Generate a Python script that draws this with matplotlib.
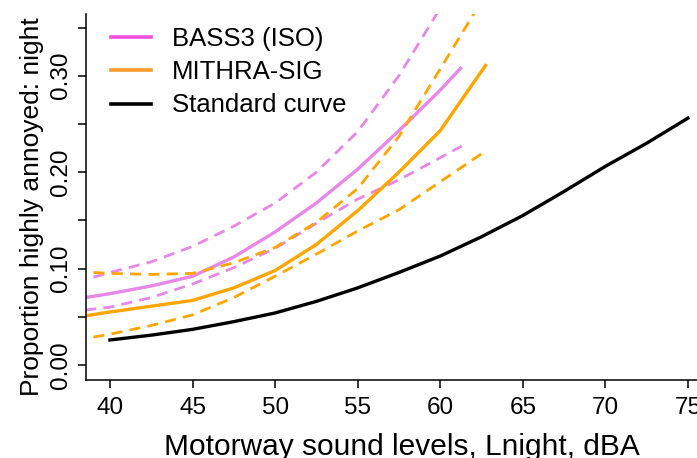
import matplotlib
matplotlib.use("Agg")
import matplotlib.pyplot as plt
from matplotlib.lines import Line2D

plt.rcParams['font.family'] = ['Liberation Sans', 'DejaVu Sans']

# Motorway Lnight (dBA) and proportion highly annoyed
bass_x = [38.5, 40, 42.5, 45, 47.5, 50, 52.5, 55, 57.5, 60, 61.3]
bass_y = [0.070, 0.074, 0.082, 0.092, 0.112, 0.138, 0.168, 0.203, 0.243, 0.285, 0.309]
bass_lo = [0.057, 0.060, 0.070, 0.084, 0.101, 0.121, 0.147, 0.172, 0.192, 0.215, 0.227]
bass_hi_x = [39.0, 40, 42.5, 45, 47.5, 50, 52.5, 55, 57.5, 60]
bass_hi = [0.091, 0.096, 0.107, 0.123, 0.144, 0.168, 0.200, 0.242, 0.300, 0.370]

mith_x = [38.5, 40, 42.5, 45, 47.5, 50, 52.5, 55, 57.5, 60, 62.8]
mith_y = [0.051, 0.055, 0.061, 0.067, 0.080, 0.098, 0.125, 0.160, 0.200, 0.243, 0.312]
mith_lo_x = [39.0, 40, 42.5, 45, 47.5, 50, 52.5, 55, 57.5, 60, 62.5]
mith_lo = [0.029, 0.032, 0.041, 0.052, 0.070, 0.092, 0.115, 0.139, 0.161, 0.190, 0.219]
mith_hi_x = [39.0, 40, 42.5, 45, 47.5, 50, 52.5, 55, 57.5, 60, 62.1]
mith_hi = [0.096, 0.095, 0.094, 0.095, 0.106, 0.122, 0.148, 0.183, 0.237, 0.307, 0.366]

std_x = [40, 42.5, 45, 47.5, 50, 52.5, 55, 57.5, 60, 62.5, 65, 67.5, 70, 72.5, 75]
std_y = [0.026, 0.031, 0.037, 0.045, 0.054, 0.066, 0.080, 0.096, 0.113, 0.133, 0.155,
         0.180, 0.206, 0.230, 0.256]

labels = ['BASS3 (ISO)', 'MITHRA-SIG', 'Standard curve']
x_ticks = [40, 45, 50, 55, 60, 65, 70, 75]
y_ticks = [0.00, 0.05, 0.10, 0.15, 0.20, 0.25, 0.30, 0.35]

pink = '#e887e8'
orange = '#ffa500'

fig = plt.figure(figsize=(6.97, 4.58), dpi=100)
ax = fig.add_axes([86 / 697, 78 / 458, 625 / 697, 366 / 458])

lw = 2.4
dash = (4, 2.6)
ax.plot(bass_x, bass_y, color=pink, lw=lw, solid_capstyle='butt')
ax.plot(bass_x, bass_lo, color=pink, lw=2.0, dashes=dash)
ax.plot(bass_hi_x, bass_hi, color=pink, lw=2.0, dashes=dash)
ax.plot(mith_x, mith_y, color=orange, lw=lw, solid_capstyle='butt')
ax.plot(mith_lo_x, mith_lo, color=orange, lw=2.0, dashes=dash)
ax.plot(mith_hi_x, mith_hi, color=orange, lw=2.0, dashes=dash)
ax.plot(std_x, std_y, color='black', lw=lw)

ax.set_xlim(38.55, 76.4)
ax.set_ylim(-0.0155, 0.364)

ax.spines['top'].set_visible(False)
ax.spines['right'].set_visible(False)
for s in ['left', 'bottom']:
    ax.spines[s].set_linewidth(1.1)

ax.set_xticks(x_ticks)
ax.set_xticklabels([str(v) for v in x_ticks])
ax.set_yticks(y_ticks)
ax.set_yticklabels(['%.2f' % v if i % 2 == 0 else '' for i, v in enumerate(y_ticks)],
                   rotation=90, va='center')
ax.tick_params(axis='both', length=6, width=1.1, labelsize=17.5)
ax.tick_params(axis='x', pad=6)
ax.tick_params(axis='y', pad=4)

fig.text(32 / 697, 1 - 207 / 458, 'Proportion highly annoyed: night', rotation=90,
         ha='center', va='center', fontsize=19)
fig.text(402 / 697, 3 / 458, 'Motorway sound levels, Lnight, dBA',
         ha='center', va='baseline', fontsize=21.5)

handles = [Line2D([], [], color='#f24fdf', lw=2.6),
           Line2D([], [], color='#f89a2c', lw=2.6),
           Line2D([], [], color='black', lw=2.6)]
fig.legend(handles, labels, loc='upper left', bbox_to_anchor=(111 / 697, 1 - 27 / 458),
           frameon=False, fontsize=18.5, handlelength=1.56, handletextpad=0.82,
           labelspacing=0.36, borderpad=0, borderaxespad=0)

fig.savefig('out.png', dpi=100)
